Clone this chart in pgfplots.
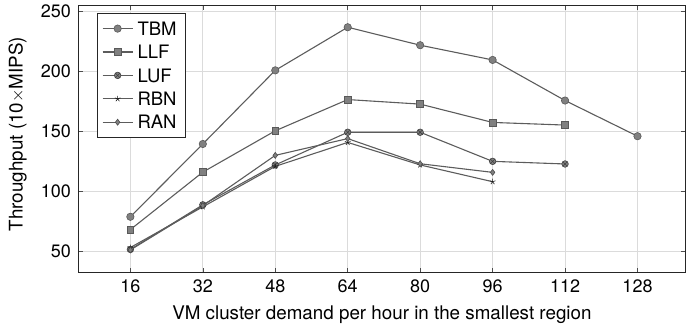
\documentclass[border=0pt]{standalone}
\usepackage{pgfplots}
\pgfplotsset{compat=1.18}
\usepackage{fontspec}
\setmainfont{TeX Gyre Heros}
\newcommand{\tickf}{\fontsize{18pt}{21pt}\selectfont}
\newcommand{\labf}{\fontsize{18.8pt}{22pt}\selectfont}
\newcommand{\legf}{\fontsize{18.5pt}{22pt}\selectfont}
\begin{document}
\tickf
\begin{tikzpicture}
\begin{axis}[
  scale only axis,
  at={(0,0)}, anchor=south west,
  width=607.2pt, height=267pt,
  xmin=4.5, xmax=138.6, ymin=32, ymax=255,
  xtick={16,32,48,64,80,96,112,128},
  ytick={50,100,150,200,250},
  grid=major,
  major grid style={gray!28, line width=0.9pt},
  axis line style={black!85, line width=0.9pt},
  tick style={black!70, line width=0.6pt},
  major tick length=4.5pt,
  /pgf/number format/assume math mode=true,
  ticklabel style={font=\tickf},
  xticklabel style={anchor=base, yshift=-20pt, inner sep=0pt},
  yticklabel style={anchor=east, inner sep=0pt, xshift=-7.3pt},
  label style={font=\labf},
  xlabel={VM cluster demand per hour in the smallest region},
  ylabel={Throughput (10$\times$MIPS)},
  xlabel style={at={(axis description cs:0.5,0)}, anchor=base, yshift=-46.6pt, inner sep=0pt},
  ylabel style={at={(axis description cs:-0.0916,0.5187)}, anchor=base, inner sep=0pt},
  legend style={at={(axis description cs:0.0303,0.9715)}, anchor=north west, draw=black!85, line width=0.8pt,
    font=\legf, inner xsep=5pt, inner ysep=8.25pt, row sep=10.1pt, column sep=4.3pt,
    nodes={inner sep=0pt, text height=13.3pt, text depth=0pt}},
  legend cell align=left,
  legend image code/.code={\draw[mark repeat=2, mark phase=2] plot coordinates {(0pt,0pt)(15pt,0pt)(30pt,0pt)};},
  every axis plot/.append style={line width=1.1pt, color=black!64},
]
\addplot[mark=*, mark size=3.7pt, mark options={fill=black!50, draw=black!65, line width=0.6pt}]
 coordinates {(16,78.7)(32,139.5)(48,201)(64,237)(80,222)(96,209.7)(112,175.8)(128,146)};
\addlegendentry{\makebox[43.3pt][l]{TBM}}
\addplot[mark=square*, mark size=3.4pt, mark options={fill=black!50, draw=black!65, line width=0.6pt}]
 coordinates {(16,68)(32,116)(48,150.5)(64,176.6)(80,172.8)(96,157.5)(112,155.3)};
\addlegendentry{\makebox[43.3pt][l]{LLF}}
\addplot[mark=otimes*, mark size=3.3pt, mark options={fill=black!50, draw=black!75, line width=0.6pt}]
 coordinates {(16,51.4)(32,88.7)(48,122)(64,149.3)(80,149.3)(96,125)(112,122.8)};
\addlegendentry{\makebox[43.3pt][l]{LUF}}
\addplot[mark=star, mark size=3pt, mark options={draw=black!90, line width=0.6pt}]
 coordinates {(16,53)(32,87)(48,120.8)(64,140.8)(80,122)(96,108)};
\addlegendentry{\makebox[43.3pt][l]{RBN}}
\addplot[mark=diamond*, mark size=3pt, mark options={fill=black!50, draw=black!70, line width=0.6pt}]
 coordinates {(16,51)(32,88)(48,130)(64,144)(80,123)(96,115.8)};
\addlegendentry{\makebox[43.3pt][l]{RAN}}
\end{axis}
\pgfresetboundingbox
\useasboundingbox (-78.3pt,-51.3pt) rectangle ++(686pt,324pt);
\end{tikzpicture}
\end{document}
